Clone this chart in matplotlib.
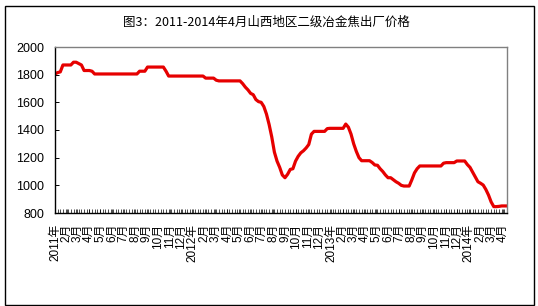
import matplotlib
matplotlib.use("Agg")
import matplotlib.pyplot as plt
import matplotlib.patches as patches
import pandas as pd
import numpy as np

plt.rcParams['font.family'] = ['Liberation Sans', 'Noto Sans CJK SC', 'DejaVu Sans']

title = "图3：2011-2014年4月山西地区二级冶金焦出厂价格"

start_date = "2011-01-01"
prices = [
    1805, 1815, 1820, 1870, 1870, 1870, 1870, 1890, 1890, 1880,
    1870, 1830, 1830, 1830, 1825, 1805, 1805, 1805, 1805, 1805,
    1805, 1805, 1805, 1805, 1805, 1805, 1805, 1805, 1805, 1805,
    1805, 1805, 1825, 1825, 1825, 1855, 1855, 1855, 1855, 1855,
    1855, 1855, 1825, 1790, 1790, 1790, 1790, 1790, 1790, 1790,
    1790, 1790, 1790, 1790, 1790, 1790, 1790, 1775, 1775, 1775,
    1775, 1760, 1755, 1755, 1755, 1755, 1755, 1755, 1755, 1755,
    1755, 1735, 1710, 1690, 1665, 1655, 1620, 1605, 1600, 1570,
    1515, 1440, 1350, 1240, 1175, 1130, 1075, 1055, 1080, 1115,
    1120, 1175, 1210, 1235, 1250, 1270, 1295, 1370, 1390, 1390,
    1390, 1390, 1390, 1410, 1412, 1412, 1412, 1412, 1412, 1412,
    1443, 1420, 1370, 1300, 1245, 1200, 1178, 1178, 1178, 1178,
    1165, 1147, 1145, 1120, 1100, 1075, 1055, 1055, 1040, 1026,
    1015, 1000, 995, 995, 995, 1040, 1090, 1120, 1140, 1140,
    1140, 1140, 1140, 1140, 1140, 1140, 1140, 1160, 1164, 1164,
    1164, 1164, 1176, 1176, 1176, 1176, 1150, 1130, 1095, 1060,
    1026, 1015, 1002, 970, 930, 880, 846, 846, 848, 851,
    851, 851,
]
dates = pd.date_range(start_date, periods=len(prices), freq="7D")

month_starts = pd.date_range("2011-01-01", "2014-04-01", freq="MS")
month_labels = [f"{d.year}年" if d.month == 1 else f"{d.month}月" for d in month_starts]

y_ticks = [800, 1000, 1200, 1400, 1600, 1800, 2000]

fig = plt.figure(figsize=(5.38, 3.06), dpi=100)
ax = fig.add_axes([55/538, 1-213/306, (507-55)/538, (213-47)/306])

ax.plot(dates, prices, color="#E60000", lw=2.3, solid_joinstyle="round")

ax.set_xlim(dates[0], dates[-1])
ax.set_ylim(800, 2000)
ax.set_yticks(y_ticks)
ax.set_yticklabels([str(v) for v in y_ticks], fontsize=9)

ax.set_xticks(month_starts)
ax.set_xticklabels(month_labels, rotation=90, fontsize=8.5, ha="center", va="top")
ax.set_xticks(dates, minor=True)

ax.tick_params(axis="y", direction="in", length=3, width=0.7, pad=8)
ax.tick_params(axis="x", which="major", direction="in", length=3, width=0.5, pad=8)
ax.tick_params(axis="x", which="minor", direction="in", length=3, width=0.5)

for s in ["left", "bottom"]:
    ax.spines[s].set_color("black")
    ax.spines[s].set_linewidth(1.0)
for s in ["top", "right"]:
    ax.spines[s].set_color("#808080")
    ax.spines[s].set_linewidth(1.0)

fig.text(266/538, 1-22/306, title, ha="center", va="center", fontsize=9,
         family=["Noto Sans CJK SC", "DejaVu Sans"])

border = patches.Rectangle((5/538, 1.5/306), 529/538, 299/306, transform=fig.transFigure,
                           fill=False, edgecolor="black", lw=1.0)
fig.patches.append(border)

fig.savefig("out.png", dpi=100)
